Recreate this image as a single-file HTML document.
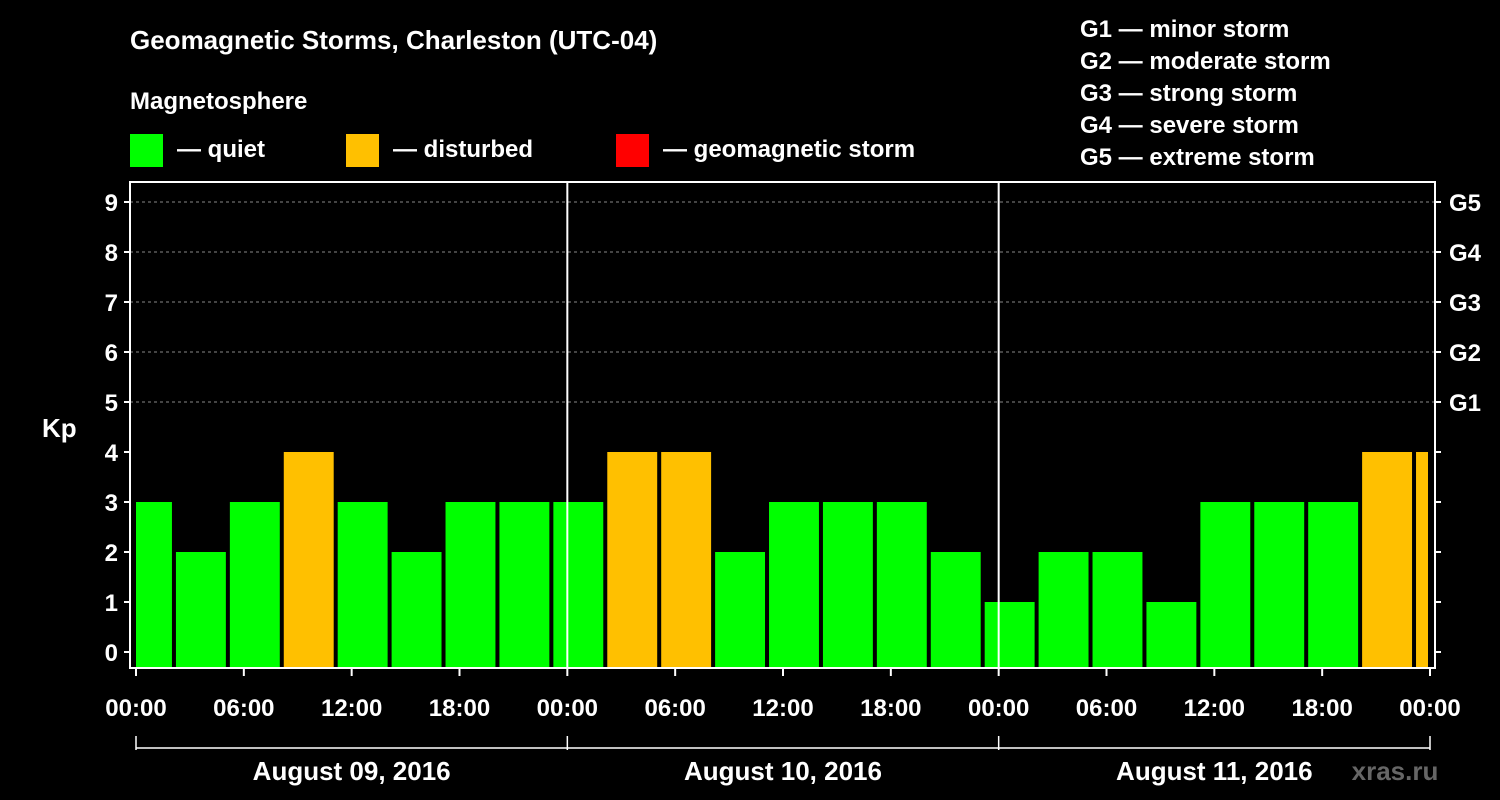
<!DOCTYPE html>
<html><head><meta charset="utf-8"><style>
body{margin:0;background:#000;}
svg{display:block;font-family:"Liberation Sans",Arial,sans-serif;font-weight:bold;}
</style></head><body>
<svg id="chart" width="1500" height="800" viewBox="0 0 1500 800">
<rect x="0" y="0" width="1500" height="800" fill="#000"/>
<text x="130" y="49" fill="#fff" font-size="26">Geomagnetic Storms, Charleston (UTC-04)</text>
<text x="130" y="109" fill="#fff" font-size="24">Magnetosphere</text>
<g><rect x="130" y="134" width="33" height="33" fill="#00ff00"/><text x="177" y="157" fill="#fff" font-size="24">— quiet</text></g>
<g><rect x="346" y="134" width="33" height="33" fill="#ffc000"/><text x="393" y="157" fill="#fff" font-size="24">— disturbed</text></g>
<g><rect x="616" y="134" width="33" height="33" fill="#ff0000"/><text x="663" y="157" fill="#fff" font-size="24">— geomagnetic storm</text></g>
<g fill="#fff" font-size="24">
<text x="1080" y="37">G1 — minor storm</text>
<text x="1080" y="69">G2 — moderate storm</text>
<text x="1080" y="101">G3 — strong storm</text>
<text x="1080" y="133">G4 — severe storm</text>
<text x="1080" y="165">G5 — extreme storm</text>
</g>
<text x="42" y="437" fill="#fff" font-size="26">Kp</text>
<g id="grid"></g><g id="bars"></g><g id="axes"></g>
<text x="1395" y="780" fill="#666" font-size="26" text-anchor="middle">xras.ru</text>
</svg>
<script>
const startHours=[-1,2,5,8,11,14,17,20,23,26,29,32,35,38,41,44,47,50,53,56,59,62,65,68,71];
const kpValues=[3,2,3,4,3,2,3,3,3,4,4,2,3,3,3,2,1,2,2,1,3,3,3,4,4];
const yTicks=[0,1,2,3,4,5,6,7,8,9];
const gLabels=["G1","G2","G3","G4","G5"];
const xTickLabels=["00:00","06:00","12:00","18:00","00:00","06:00","12:00","18:00","00:00","06:00","12:00","18:00","00:00"];
const dayLabels=["August 09, 2016","August 10, 2016","August 11, 2016"];
const NS="http://www.w3.org/2000/svg";
const L=130,R=1435,T=182,B=668,X0=136,X1=1430;
const x=h=>X0+h*(X1-X0)/72;
const y=v=>652-v*50;
function mk(tag,attrs,parent,txt){const e=document.createElementNS(NS,tag);for(const k in attrs)e.setAttribute(k,attrs[k]);if(txt!==undefined)e.textContent=txt;document.getElementById(parent).appendChild(e);return e;}
function color(v){return v>=5?"#ff0000":(v>=4?"#ffc000":"#00ff00");}
yTicks.forEach(v=>{if(v>=5){const g=mk("line",{x1:L,x2:R,y1:y(v),y2:y(v),stroke:"#888","stroke-dasharray":"3,3","stroke-width":1},"grid");

}});
startHours.forEach((h,i)=>{let a=Math.max(x(h)+4,X0),b=Math.min(x(h+3),X1-2);
const r=mk("rect",{x:a,y:y(kpValues[i]),width:b-a,height:B-y(kpValues[i]),fill:color(kpValues[i])},"bars");

});
mk("rect",{x:L,y:T,width:R-L,height:B-T,fill:"none",stroke:"#fff","stroke-width":2},"axes");
[24,48].forEach(h=>{const l=mk("line",{x1:x(h),x2:x(h),y1:T,y2:B,stroke:"#fff","stroke-width":2},"axes");

});
yTicks.forEach(v=>{mk("line",{x1:L-6,x2:L,y1:y(v),y2:y(v),stroke:"#fff","stroke-width":2},"axes");
mk("line",{x1:R,x2:R+6,y1:y(v),y2:y(v),stroke:"#fff","stroke-width":2},"axes");
const t=mk("text",{x:L-12,y:y(v)+9,fill:"#fff","font-size":24,"text-anchor":"end"},"axes",String(v));

});
gLabels.forEach((g,i)=>{const t=mk("text",{x:R+14,y:y(5+i)+9,fill:"#fff","font-size":24},"axes",g);

});
xTickLabels.forEach((s,i)=>{const xx=x(i*6);mk("line",{x1:xx,x2:xx,y1:B,y2:B+8,stroke:"#fff","stroke-width":2},"axes");
const t=mk("text",{x:xx,y:716,fill:"#fff","font-size":24,"text-anchor":"middle"},"axes",s);

});
mk("line",{x1:x(0),x2:x(72),y1:748,y2:748,stroke:"#fff","stroke-width":1.5},"axes");
[0,24,48,72].forEach(h=>mk("line",{x1:x(h),x2:x(h),y1:736,y2:750,stroke:"#fff","stroke-width":1.5},"axes"));
dayLabels.forEach((s,i)=>{const t=mk("text",{x:x(i*24+12),y:780,fill:"#fff","font-size":26,"text-anchor":"middle"},"axes",s);

});
</script>
</body></html>
